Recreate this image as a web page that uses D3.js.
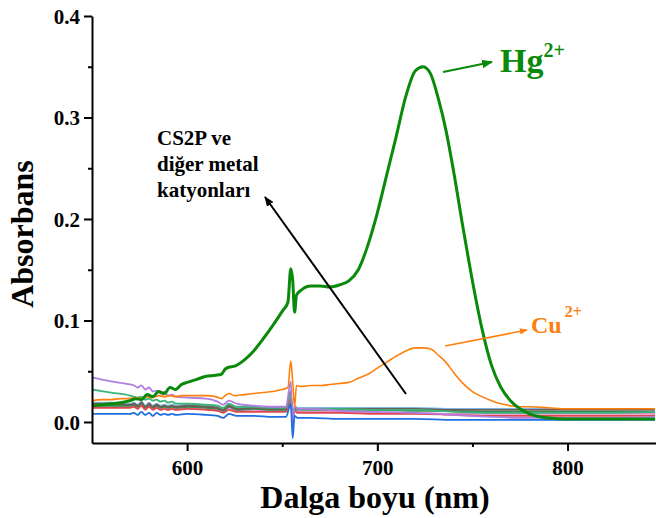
<!DOCTYPE html>
<html>
<head>
<meta charset="utf-8">
<script src="https://cdn.jsdelivr.net/npm/d3@7"></script>
<style>
  body { margin: 0; background: #fff; }
  svg text { font-family: "Liberation Serif", "Times New Roman", serif; font-weight: bold; }
</style>
</head>
<body>
<svg id="chart" width="656" height="518"></svg>
<script>
// wavelength grid for the two strong responses (Hg, Cu)
var wlFine = [550, 555, 560, 565, 570, 573, 576, 579, 582, 585, 588, 591, 594, 597, 600, 605, 610, 615, 618, 620,
  622, 625, 630, 635, 640, 645, 650, 653, 654.5, 655.5, 656.5, 657.5, 660, 665, 670, 675, 680, 685, 690, 695,
  700, 705, 710, 715, 720, 724, 728, 732, 736, 740, 745, 750, 755, 760, 765, 770, 775, 780, 790, 800,
  810, 820, 830, 846];

var hgAbs = [.016, .017, .018, .019, .021, .023, .022, .027, .025, .030, .028, .034, .032, .037, .039, .042, .045, .046, .047, .052,
  .054, .055, .061, .070, .082, .095, .109, .118, .151, .140, .108, .125, .130, .134, .134, .133, .135, .139, .150, .174,
  .206, .244, .282, .321, .346, .350, .343, .319, .288, .248, .192, .139, .092, .056, .034, .021, .013, .008, .004, .003,
  .003, .003, .003, .003];

var cuAbs = [.021, .022, .022, .023, .023, .024, .023, .025, .024, .026, .025, .026, .025, .026, .026, .026, .026, .025, .023, .026,
  .028, .026, .027, .028, .029, .030, .032, .034, .060, .040, .015, .036, .035, .036, .036, .037, .038, .039, .043, .047,
  .053, .059, .065, .070, .073, .073, .072, .066, .059, .049, .038, .030, .025, .021, .018, .016, .015, .015, .014, .013,
  .013, .013, .013, .013];

// coarser grid for the ligand alone and the other cations
var wlBase = [550, 560, 570, 572, 574, 576, 578, 580, 582, 584, 586, 588, 590, 592, 594, 600, 610, 616, 619, 622,
  626, 635, 645, 652, 654.5, 655.5, 656.5, 658, 665, 680, 700, 720, 740, 760, 780, 800, 820, 846];

var lightblueAbs = [.019, .019, .018, .019, .017, .020, .016, .019, .016, .018, .016, .017, .016, .017, .016, .017, .016, .015, .013, .017,
  .014, .015, .014, .014, .025, .003, .015, .014, .014, .014, .014, .014, .013, .013, .013, .013, .013, .013];
var pinkAbs = [.015, .015, .015, .016, .014, .017, .013, .016, .013, .015, .013, .014, .013, .014, .013, .014, .013, .012, .010, .014,
  .011, .012, .011, .011, .022, .001, .012, .010, .010, .010, .009, .009, .008, .008, .008, .008, .008, .008];
var darkgreenAbs = [.016, .016, .016, .017, .015, .018, .014, .017, .014, .016, .014, .015, .014, .015, .014, .015, .014, .013, .011, .015,
  .012, .013, .012, .012, .026, .004, .013, .012, .012, .012, .012, .011, .011, .010, .010, .010, .010, .010];
var grayAbs = [.018, .018, .017, .018, .016, .019, .015, .018, .015, .017, .015, .016, .015, .016, .015, .016, .015, .014, .012, .016,
  .013, .014, .013, .013, .030, .000, .014, .013, .013, .013, .013, .013, .012, .012, .012, .012, .012, .012];
var redAbs = [.014, .014, .014, .015, .013, .016, .012, .015, .012, .014, .012, .013, .012, .013, .012, .013, .012, .011, .009, .012,
  .010, .010, .010, .010, .024, -.002, .011, .009, .009, .009, .008, .008, .007, .006, .006, .006, .006, .006];
var tealAbs = [.032, .029, .026, .025, .024, .025, .022, .023, .021, .022, .020, .021, .019, .020, .018, .018, .017, .016, .014, .018,
  .015, .015, .014, .014, .028, .002, .015, .013, .013, .013, .012, .012, .010, .009, .009, .009, .009, .010];
var purpleAbs = [.044, .040, .037, .036, .034, .036, .032, .034, .030, .031, .028, .030, .026, .027, .025, .024, .023, .020, .017, .021,
  .018, .016, .015, .015, .040, -.006, .016, .013, .013, .011, .010, .009, .007, .005, .004, .004, .004, .005];
var blueAbs = [.008, .008, .008, .009, .007, .010, .007, .009, .006, .009, .007, .008, .007, .008, .007, .008, .007, .006, .004, .008,
  .006, .006, .005, .005, .018, -.016, .006, .004, .004, .003, .003, .003, .002, .002, .002, .002, .002, .002];

var xMajor = [600, 700, 800];
var xMinor = [650, 750];
var yMajor = [0, 0.1, 0.2, 0.3, 0.4];
var yMinor = [0.05, 0.15, 0.25, 0.35];

var svg = d3.select("#chart");
var padL = 92, padR = 656, padT = 16, padB = 443;

var x = d3.scaleLinear().domain([550, 846.5]).range([padL, padR]);
var y = d3.scaleLinear().domain([-0.0207, 0.4]).range([padB, padT]);

svg.append("clipPath").attr("id", "plotclip")
  .append("rect").attr("x", padL).attr("y", padT).attr("width", padR - padL).attr("height", padB - padT);

var line = d3.line()
  .x(function(d) { return x(d[0]); })
  .y(function(d) { return y(d[1]); })
  .curve(d3.curveMonotoneX);

function zipUp(wl, vals) {
  return wl.map(function(w, i) { return [w, vals[i]]; });
}

var series = [
  { wl: wlBase, v: lightblueAbs, c: "#7fb8e6", w: 1.8 },
  { wl: wlBase, v: pinkAbs, c: "#e58ac8", w: 1.8 },
  { wl: wlBase, v: darkgreenAbs, c: "#2f8f4f", w: 1.8 },
  { wl: wlBase, v: grayAbs, c: "#6e5f55", w: 1.8 },
  { wl: wlBase, v: redAbs, c: "#e0474c", w: 1.8 },
  { wl: wlBase, v: tealAbs, c: "#3cb37a", w: 1.8 },
  { wl: wlBase, v: purpleAbs, c: "#b07fe0", w: 1.8 },
  { wl: wlBase, v: blueAbs, c: "#1f6fe0", w: 1.8 },
  { wl: wlFine, v: cuAbs, c: "#ff7f0e", w: 1.6 },
  { wl: wlFine, v: hgAbs, c: "#0a8a0a", w: 3 }
];

var plot = svg.append("g").attr("clip-path", "url(#plotclip)");
series.forEach(function(s) {
  plot.append("path")
    .datum(zipUp(s.wl, s.v))
    .attr("d", line)
    .attr("fill", "none")
    .attr("stroke", s.c)
    .attr("stroke-width", s.w)
    .attr("stroke-linejoin", "round");
});

// axes
var xAxis = svg.append("g").attr("transform", "translate(0," + padB + ")")
  .call(d3.axisBottom(x).tickValues(xMajor).tickFormat(d3.format("d")).tickSize(8).tickSizeOuter(0));
svg.append("g").attr("transform", "translate(0," + padB + ")")
  .call(d3.axisBottom(x).tickValues(xMinor).tickFormat("").tickSize(4).tickSizeOuter(0))
  .select(".domain").remove();
xAxis.selectAll("text").attr("y", 32).attr("dy", 0).style("font-size", "21px").attr("fill", "#000");

var yAxis = svg.append("g").attr("transform", "translate(" + padL + ",0)")
  .call(d3.axisLeft(y).tickValues(yMajor).tickFormat(d3.format(".1f")).tickSize(8).tickSizeOuter(0));
svg.append("g").attr("transform", "translate(" + padL + ",0)")
  .call(d3.axisLeft(y).tickValues(yMinor).tickFormat("").tickSize(4).tickSizeOuter(0))
  .select(".domain").remove();
yAxis.selectAll("text").attr("x", -12).attr("dy", "0.35em").style("font-size", "21px").attr("fill", "#000");

svg.selectAll(".domain, .tick line").attr("stroke", "#000").attr("stroke-width", 2);

// axis titles
svg.append("text").attr("x", 375).attr("y", 508).attr("text-anchor", "middle")
  .style("font-size", "32px").text("Dalga boyu (nm)");
svg.append("text").attr("transform", "translate(33,234) rotate(-90)").attr("text-anchor", "middle")
  .style("font-size", "32px").text("Absorbans");

// annotations
var defs = svg.append("defs");
function marker(id, color) {
  defs.append("marker").attr("id", id).attr("viewBox", "0 0 10 10")
    .attr("refX", 9).attr("refY", 5).attr("markerWidth", 5).attr("markerHeight", 5)
    .attr("markerUnits", "strokeWidth").attr("orient", "auto")
    .append("path").attr("d", "M0,1 L10,5 L0,9 z").attr("fill", color);
}
marker("mGreen", "#0a8a0a");
marker("mOrange", "#ff7f0e");
marker("mBlack", "#000");

svg.append("line").attr("x1", 443).attr("y1", 72).attr("x2", 492).attr("y2", 62)
  .attr("stroke", "#0a8a0a").attr("stroke-width", 2.2).attr("marker-end", "url(#mGreen)");
var hg = svg.append("text").attr("x", 500).attr("y", 72).attr("fill", "#0a8a0a").style("font-size", "34px");
hg.append("tspan").text("Hg");
hg.append("tspan").attr("dy", -15).style("font-size", "20px").text("2+");

svg.append("line").attr("x1", 445).attr("y1", 346).attr("x2", 527).attr("y2", 330)
  .attr("stroke", "#ff7f0e").attr("stroke-width", 1.6).attr("marker-end", "url(#mOrange)");
var cu = svg.append("text").attr("x", 531).attr("y", 333).attr("fill", "#ff7f0e").style("font-size", "24px");
cu.append("tspan").text("Cu");
cu.append("tspan").attr("dx", 3).attr("dy", -16).style("font-size", "16px").text("2+");

svg.append("line").attr("x1", 406).attr("y1", 394).attr("x2", 265).attr("y2", 197)
  .attr("stroke", "#000").attr("stroke-width", 2).attr("marker-end", "url(#mBlack)");
var lbl = ["CS2P ve", "diğer metal", "katyonları"];
lbl.forEach(function(t, i) {
  svg.append("text").attr("x", 157).attr("y", 145 + i * 26).style("font-size", "21px").text(t);
});
</script>
</body>
</html>
